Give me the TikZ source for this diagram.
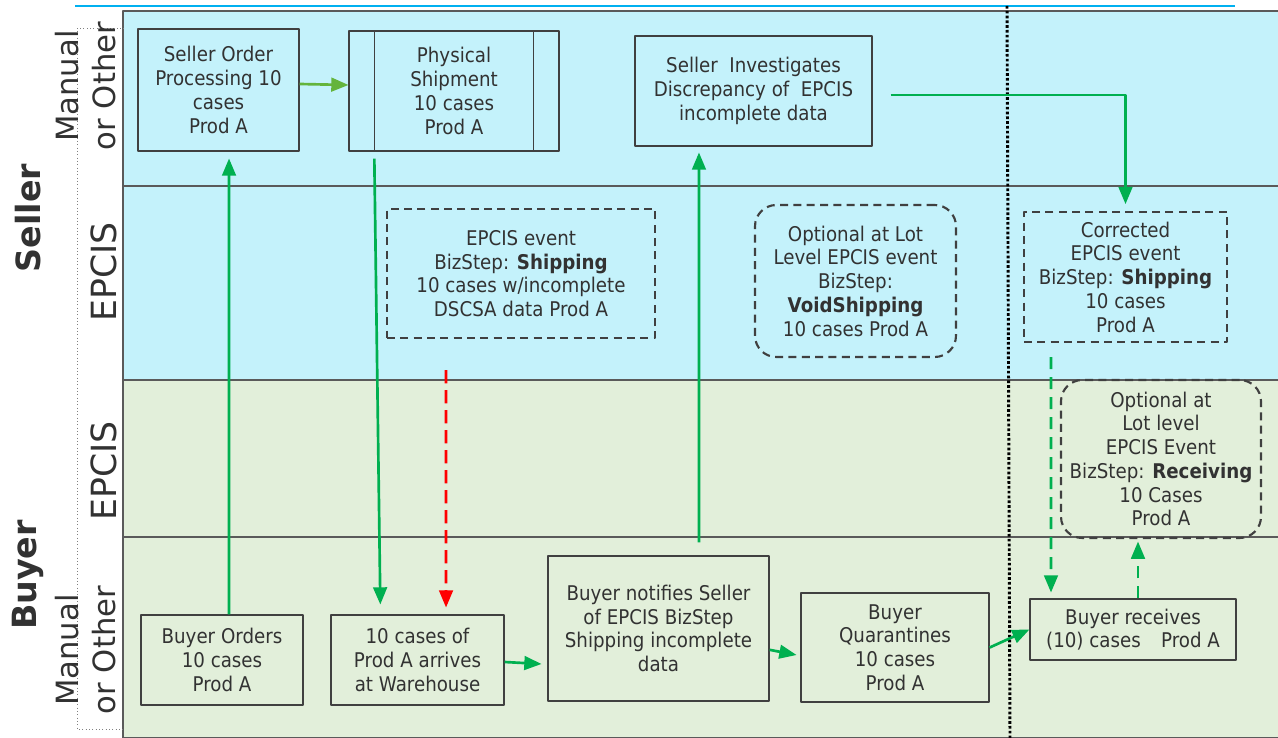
\documentclass[tikz,border=0pt]{standalone}
\usepackage{fontspec}
\setmainfont{DejaVu Sans}[FakeStretch=0.9]
\newfontfamily\lanefont{DejaVu Sans}
\usetikzlibrary{arrows}
\definecolor{sellerbg}{RGB}{196,242,251}
\definecolor{buyerbg}{RGB}{226,239,218}
\definecolor{flowgreen}{RGB}{0,176,80}
\definecolor{leafgreen}{RGB}{100,180,60}
\definecolor{edgegray}{RGB}{64,64,64}
\definecolor{lanegray}{RGB}{90,90,90}
\definecolor{textgray}{RGB}{50,50,50}
\definecolor{topcyan}{RGB}{0,176,240}
\newcommand{\boxfont}{\fontsize{15.2}{17.8}\selectfont}

\begin{document}
\begin{tikzpicture}[x=0.75pt,y=-0.75pt,line join=round,>=triangle 45,
    box/.style={draw=edgegray,line width=1pt,inner sep=0pt,align=center,text=textgray,font=\boxfont},
    size/.style 2 args={minimum width=#1*0.75pt,minimum height=#2*0.75pt},
    evbox/.style={box,line width=1.6pt,dash pattern=on 6pt off 4pt},
    optbox/.style={evbox,rounded corners=16pt},
    flow/.style={->,draw=flowgreen,line width=2pt},
    dflow/.style={flow,dash pattern=on 9pt off 6pt},
    lane/.style={draw=lanegray,line width=1pt},
    lanelab/.style={rotate=90,align=center,text=textgray,font=\lanefont\fontsize{23}{27.75}\selectfont},
    partylab/.style={rotate=90,text=textgray,font=\lanefont\bfseries\fontsize{25}{30}\selectfont}]
    \useasboundingbox (0,0) rectangle (1278,738);
    % swim lanes
    \foreach \top/\bot/\col in {11/186/sellerbg,186/380/sellerbg,380/537/buyerbg,537/738/buyerbg}
    \draw[lane,fill=\col] (123,\top) rectangle (1280,\bot);
    \draw[topcyan,line width=1.8pt] (75,6) -- (1235,6);
    \draw[gray,dotted,line width=0.5pt] (124,28) -- (77,28) -- (77,729) -- (124,729);
    \draw[black,line width=2.2pt,dash pattern=on 2pt off 1.6pt] (1007,6) -- (1010,738);
    % lane labels
    \node[partylab] (seller) at (28,218) {Seller};
    \node[partylab] (buyer) at (28,575) {Buyer};
    \node[lanelab] (sman) at (86,86) {Manual\\or Other};
    \node[lanelab,font=\lanefont\fontsize{26}{30}\selectfont] (sepc) at (104,272) {EPCIS};
    \node[lanelab,font=\lanefont\fontsize{26}{30}\selectfont] (bepc) at (104,471) {EPCIS};
    \node[lanelab] (bman) at (86,650) {Manual\\or Other};
    % seller boxes
    \node[box,size={161}{122}] (spo) at (218.5,90) {Seller Order\\Processing 10\\cases\\Prod A};
    \node[box,size={210}{120}] (ship) at (454,91) {Physical\\Shipment\\10 cases\\Prod A};
    \draw[edgegray,line width=1pt] ([xshift=19.5pt]ship.north west) -- ([xshift=19.5pt]ship.south west);
    \draw[edgegray,line width=1pt] ([xshift=-19.5pt]ship.north east) -- ([xshift=-19.5pt]ship.south east);
    \node[box,size={237}{110}] (inv) at (753.5,91) {Seller\ \ Investigates\\Discrepancy of\ \ EPCIS\\incomplete data};
    \node[evbox,size={268}{129}] (ship_ev) at (521,273.5) {EPCIS event\\BizStep: \textbf{Shipping}\\10 cases w/incomplete\\DSCSA data Prod A};
    \node[optbox,size={201}{152}] (void_ev) at (855.5,281) {Optional at Lot\\Level EPCIS event\\BizStep:\\\textbf{VoidShipping}\\10 cases Prod A};
    \node[evbox,size={203}{130}] (corr) at (1125.5,277) {Corrected\\EPCIS event\\BizStep: \textbf{Shipping}\\10 cases\\Prod A};
    % buyer boxes
    \node[optbox,size={200}{158}] (recv_ev) at (1161,459) {Optional at\\Lot level\\EPCIS Event\\BizStep: \textbf{Receiving}\\10 Cases\\Prod A};
    \node[box,size={162}{90}] (bord) at (222,660) {Buyer Orders\\10 cases\\Prod A};
    \node[box,size={173}{90}] (arrive) at (417.5,660) {10 cases of\\Prod A arrives\\at Warehouse};
    \node[box,size={221}{145}] (notify) at (658.5,628.5) {Buyer notifies Seller\\of EPCIS BizStep\\Shipping incomplete\\data};
    \node[box,size={188}{109}] (quar) at (895,647.5) {Buyer\\Quarantines\\10 cases\\Prod A};
    \node[box,size={206}{61}] (recv) at (1133,629.5) {Buyer receives\\(10) cases\quad Prod A};
    % connectors
    \coordinate (redtop) at (446,370);
    \draw[flow,draw=leafgreen] ([yshift=4.5pt]spo.east) -- ([yshift=4.5pt]ship.west);
    \draw[flow] ([xshift=5.25pt]bord.north) -- ([xshift=7.9pt,yshift=-5.25pt]spo.south);
    \draw[flow] ([xshift=19.5pt,yshift=-5.25pt]ship.south west) -- ([xshift=37.5pt,yshift=7.5pt]arrive.north west);
    \draw[->,red,line width=2pt,dash pattern=on 10pt off 5pt] (redtop) -- ([xshift=21.4pt,yshift=5.25pt]arrive.north);
    \draw[flow] ([yshift=-1.5pt]arrive.east) -- ([xshift=-4.5pt,yshift=-26.6pt]notify.west);
    \draw[flow] ([xshift=30.4pt,yshift=9.75pt]notify.north) -- ([xshift=-40.9pt,yshift=-4.5pt]inv.south);
    \draw[flow] ([xshift=13.5pt,yshift=-3pt]inv.east) -| ([yshift=5.25pt]corr.north);
    \draw[flow] ([yshift=-16pt]notify.east) -- ([xshift=-3pt,yshift=-5.6pt]quar.west);
    \draw[flow] (quar.east) -- (recv.west);
    \draw[dflow] ([xshift=-55.9pt,yshift=-10.5pt]corr.south) -- ([xshift=-61.5pt,yshift=4.5pt]recv.north);
    \draw[dflow] ([xshift=3.75pt]recv.north) -- ([xshift=-17.25pt,yshift=-2pt]recv_ev.south);
\end{tikzpicture}
\end{document}
